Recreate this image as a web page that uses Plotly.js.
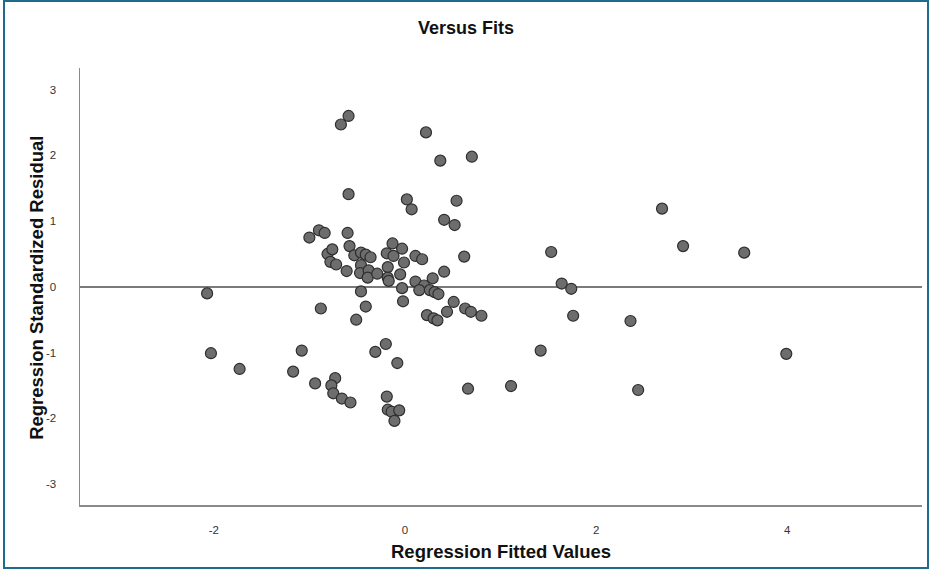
<!DOCTYPE html>
<html>
<head>
<meta charset="utf-8">
<script src="https://cdn.plot.ly/plotly-3.0.1.min.js"></script>
<style>
  html, body { margin: 0; padding: 0; background: #ffffff; }
  #wrap { position: relative; width: 932px; height: 571px; overflow: hidden; }
  #chart { position: absolute; left: 0; top: 0; width: 932px; height: 571px; }
  #frame { position: absolute; left: 3px; top: 0px; width: 922px; height: 565px;
           border: 2px solid #1f6b8e; pointer-events: none; }
</style>
</head>
<body>
<div id="wrap">
  <div id="chart"></div>
  <div id="frame"></div>
</div>
<script>
// Fitted values (x) and standardized residuals (y)
const fittedValues = [
  -2.07, -2.03, -1.73, -1.17, -1.08, -1.00, -0.94, -0.90, -0.84, -0.88,
  -0.81, -0.76, -0.78, -0.72, -0.73, -0.77, -0.75, -0.66, -0.57, -0.67,
  -0.59, -0.59, -0.60, -0.58, -0.61, -0.53, -0.46, -0.41, -0.36, -0.46,
  -0.47, -0.38, -0.39, -0.29, -0.46, -0.41, -0.51, -0.31, -0.20, -0.08,
  -0.19, -0.18, -0.14, -0.06, -0.11, -0.13, -0.03, -0.19, -0.12, -0.01,
  -0.18, -0.05, -0.18, -0.17, -0.03, -0.02, 0.02, 0.07, 0.22, 0.37,
  0.70, 0.54, 0.41, 0.52, 0.11, 0.18, 0.62, 0.41, 0.29, 0.11,
  0.20, 0.15, 0.26, 0.31, 0.35, 0.51, 0.44, 0.23, 0.30, 0.34,
  0.63, 0.69, 0.80, 0.66, 1.11, 1.42, 1.53, 1.64, 1.74, 1.76,
  2.36, 2.44, 2.69, 2.91, 3.55, 3.99
];
const standardizedResiduals = [
  -0.10, -1.01, -1.25, -1.29, -0.97, 0.75, -1.47, 0.86, 0.82, -0.33,
  0.50, 0.57, 0.38, 0.34, -1.39, -1.50, -1.62, -1.70, -1.76, 2.47,
  2.60, 1.41, 0.82, 0.62, 0.24, 0.48, 0.52, 0.49, 0.45, 0.33,
  0.21, 0.25, 0.14, 0.20, -0.07, -0.30, -0.50, -0.99, -0.87, -1.16,
  -1.67, -1.87, -1.90, -1.88, -2.04, 0.66, 0.58, 0.51, 0.47, 0.37,
  0.30, 0.19, 0.14, 0.09, -0.02, -0.22, 1.33, 1.18, 2.35, 1.92,
  1.98, 1.31, 1.02, 0.94, 0.47, 0.42, 0.46, 0.23, 0.13, 0.08,
  0.02, -0.05, -0.05, -0.08, -0.11, -0.23, -0.38, -0.43, -0.48, -0.51,
  -0.33, -0.38, -0.44, -1.55, -1.51, -0.97, 0.53, 0.05, -0.03, -0.44,
  -0.52, -1.57, 1.19, 0.62, 0.52, -1.02
];
const xTickValues = [-2, 0, 2, 4];
const yTickValues = [-3, -2, -1, 0, 1, 2, 3];

const chartTitle = "Versus Fits";
const xTitle = "Regression Fitted Values";
const yTitle = "Regression Standardized Residual";

const trace = {
  type: "scatter",
  mode: "markers",
  x: fittedValues,
  y: standardizedResiduals,
  marker: {
    size: 11,
    color: "#6d6d6d",
    line: { color: "#2e2e2e", width: 1.2 }
  },
  hoverinfo: "x+y"
};

const fontFam = "Liberation Sans, Arial, Helvetica, sans-serif";

const layout = {
  width: 932,
  height: 571,
  margin: { l: 80, r: 10, t: 68, b: 66, pad: 0 },
  paper_bgcolor: "#ffffff",
  plot_bgcolor: "#ffffff",
  showlegend: false,
  title: {
    text: "<b>" + chartTitle + "</b>",
    font: { family: fontFam, size: 18, color: "#111" },
    x: 0.5, xref: "container", xanchor: "center",
    y: 0.951, yref: "container", yanchor: "middle"
  },
  xaxis: {
    range: [-3.40, 5.41],
    tickvals: xTickValues,
    ticktext: xTickValues.map(String),
    showgrid: false,
    zeroline: false,
    showline: true,
    linecolor: "#8a8a8a",
    linewidth: 1.5,
    ticks: "",
    ticklabelstandoff: 14,
    tickfont: { family: fontFam, size: 11.5, color: "#333" },
    fixedrange: true
  },
  yaxis: {
    range: [-3.32, 3.33],
    tickvals: yTickValues,
    ticktext: yTickValues.map(String),
    showgrid: false,
    zeroline: true,
    zerolinecolor: "#7a7a7a",
    zerolinewidth: 2,
    showline: true,
    linecolor: "#8a8a8a",
    linewidth: 1.5,
    ticks: "",
    ticklabelstandoff: 20,
    tickfont: { family: fontFam, size: 11.5, color: "#333" },
    fixedrange: true
  },
  annotations: [
    {
      text: "<b>" + xTitle + "</b>",
      xref: "paper", yref: "paper",
      x: 0.5, y: -0.107,
      xanchor: "center", yanchor: "middle",
      showarrow: false,
      font: { family: fontFam, size: 18.5, color: "#111" }
    },
    {
      text: "<b>" + yTitle + "</b>",
      xref: "paper", yref: "paper",
      x: -0.051, y: 0.497,
      xanchor: "center", yanchor: "middle",
      textangle: -90,
      showarrow: false,
      font: { family: fontFam, size: 18.5, color: "#111" }
    }
  ]
};

Plotly.newPlot("chart", [trace], layout, { displayModeBar: false, staticPlot: true });
</script>
</body>
</html>
